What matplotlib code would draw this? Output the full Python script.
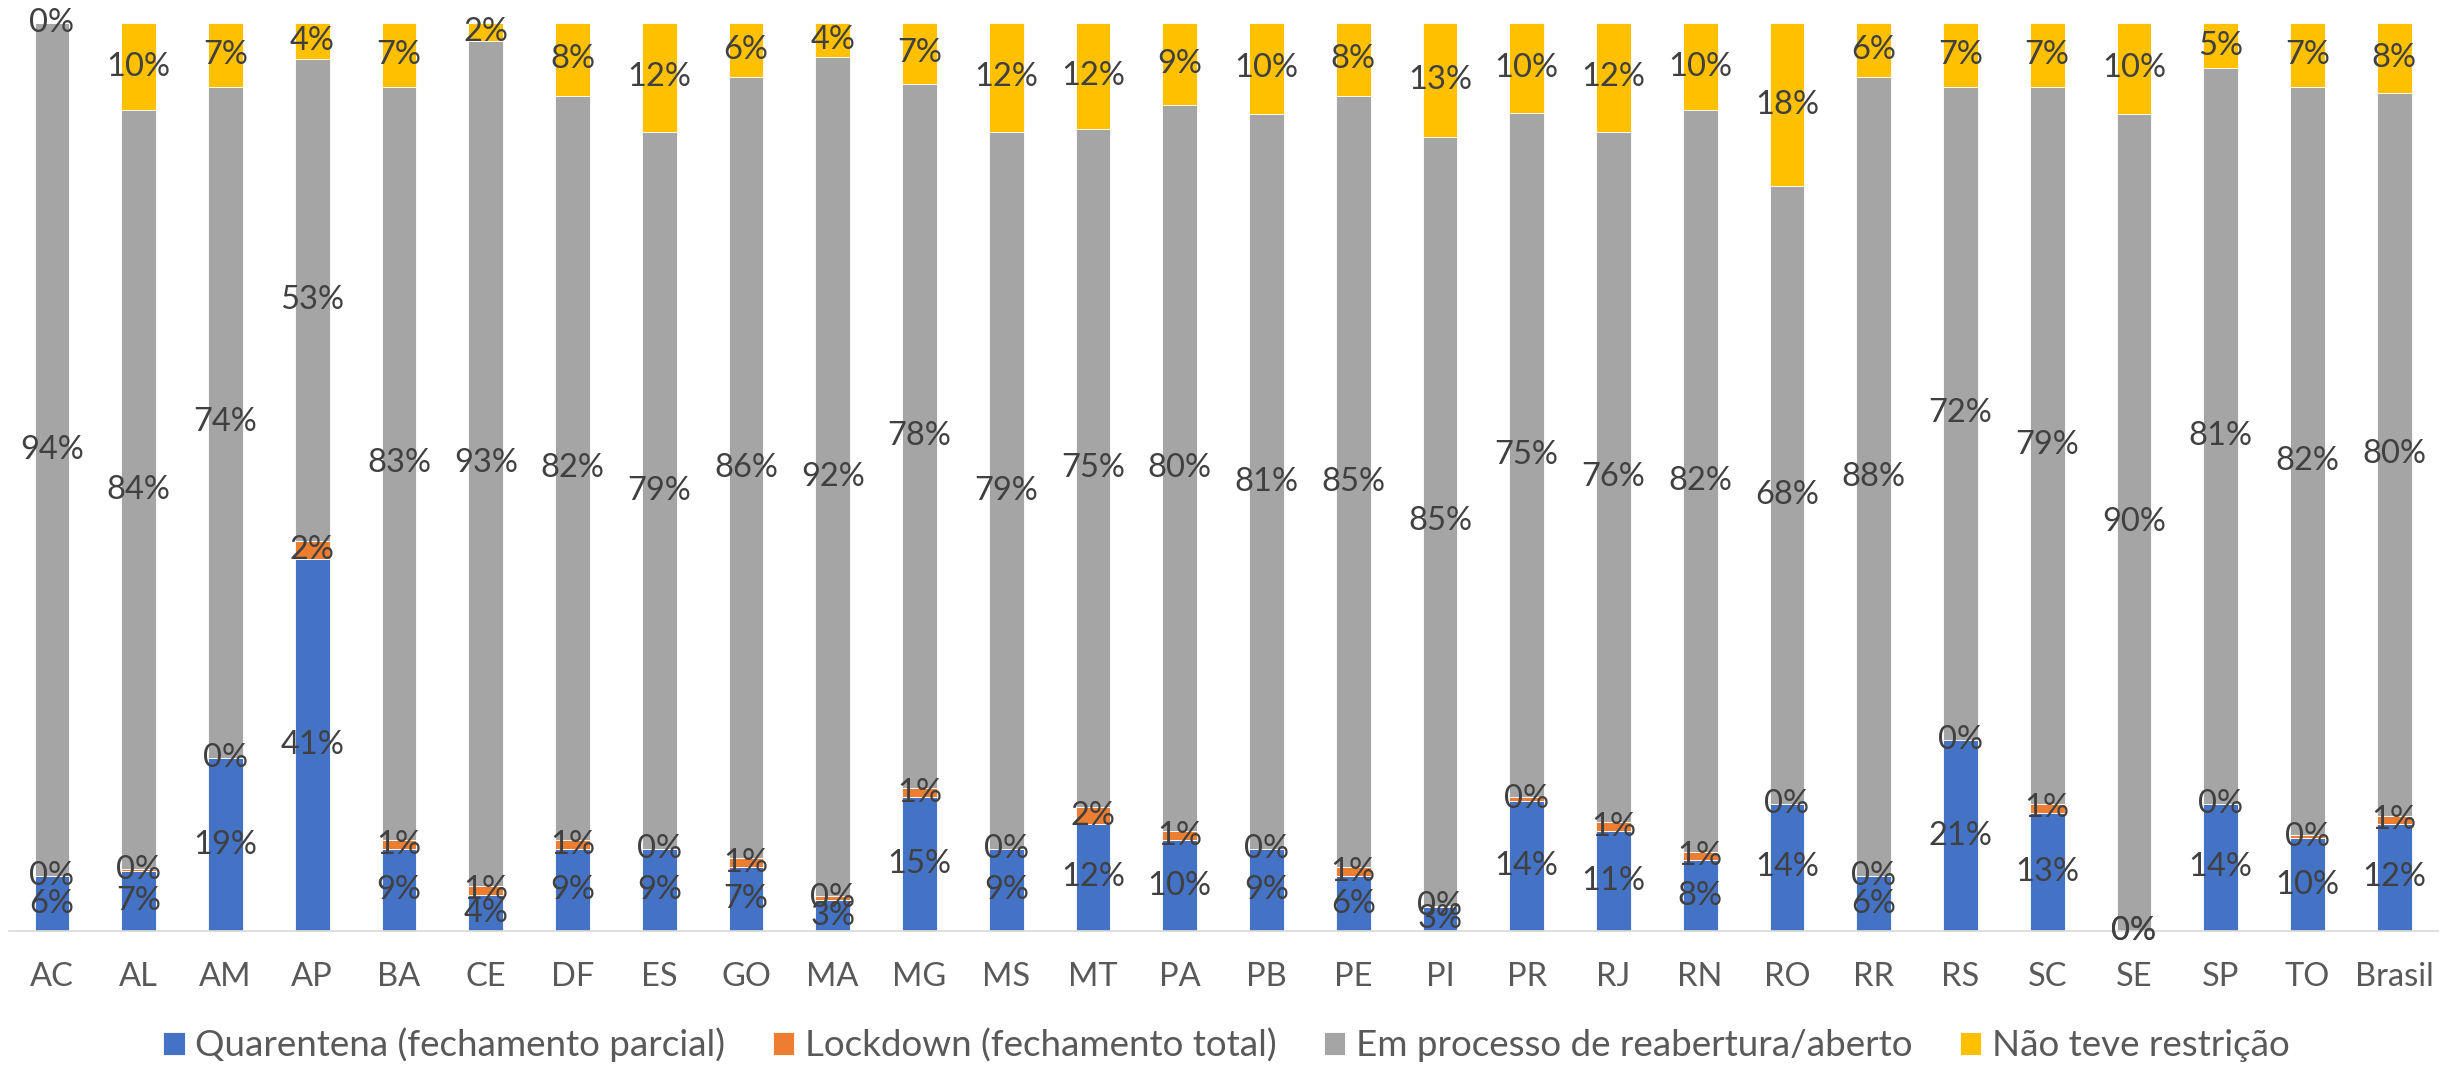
import numpy as np
import matplotlib
matplotlib.use("Agg")
import matplotlib.pyplot as plt

plt.rcParams['font.family'] = ['Lato', 'DejaVu Sans']

estados = ["AC", "AL", "AM", "AP", "BA", "CE", "DF", "ES", "GO", "MA", "MG", "MS", "MT", "PA",
           "PB", "PE", "PI", "PR", "RJ", "RN", "RO", "RR", "RS", "SC", "SE", "SP", "TO", "Brasil"]

# percentuais por estado
quarentena = [6, 6.6, 19, 41, 9, 4, 9, 9, 7, 3.4, 14.8, 9, 11.8, 10,
              9, 6, 2.6, 14.3, 11, 7.8, 14, 6, 21, 13, 0, 14, 10.2, 11.8]
lockdown = [0, 0.2, 0, 2, 1, 1, 1, 0, 1, 0.4, 0.9, 0, 1.8, 1,
            0, 1, 0.2, 0.4, 1, 0.9, 0, 0, 0, 1, 0, 0, 0.4, 0.9]
reabertura = [94, 83.6, 74, 53, 83, 93, 82, 79, 86, 92.4, 77.6, 79, 74.7, 80,
              81, 85, 84.6, 75.4, 76, 81.7, 68, 88, 72, 79, 90, 81, 82.3, 79.6]
sem_restricao = [0, 9.6, 7, 4, 7, 2, 8, 12, 6, 3.8, 6.7, 12, 11.7, 9,
                 10, 8, 12.6, 9.9, 12, 9.6, 18, 6, 7, 7, 10, 5, 7.1, 7.7]

series = [
    ("Quarentena (fechamento parcial)", quarentena, "#4472C4"),
    ("Lockdown (fechamento total)", lockdown, "#ED7D31"),
    ("Em processo de reabertura/aberto", reabertura, "#A5A5A5"),
    ("Não teve restrição", sem_restricao, "#FFC000"),
]

fig = plt.figure(figsize=(24.53, 10.68), dpi=100)
ax = fig.add_axes([0.0035, 0.1283, 0.9902, 0.8502])

x = np.arange(len(estados))
base = np.zeros(len(estados))
for nome, vals, cor in series:
    v = np.array(vals) / 100
    bars = ax.bar(x, v, 0.4, bottom=base, color=cor, label=nome,
                  edgecolor="white", linewidth=0.6)
    ax.bar_label(bars, labels=[f"{p:.0f}%" for p in vals], label_type="center",
                 fontsize=23.5, color="#404040")
    base += v

ax.set_xlim(-0.5, len(estados) - 0.5)
ax.set_ylim(0, 1)
ax.set_xticks(x)
ax.set_xticklabels(estados, fontsize=23.5, color="#595959")
ax.tick_params(axis="x", length=0, pad=22)
ax.set_yticks([])
for s in ["top", "right", "left"]:
    ax.spines[s].set_visible(False)
ax.spines["bottom"].set_color("#D9D9D9")
ax.spines["bottom"].set_linewidth(1.2)

leg = fig.legend(loc="center", bbox_to_anchor=(0.5, 1 - 1045 / 1068), ncol=4, frameon=False,
                 fontsize=26.5, handlelength=0.58, handleheight=0.58, handletextpad=0.28,
                 columnspacing=1.3)
for t in leg.get_texts():
    t.set_color("#595959")

fig.savefig("out.png", dpi=100)
